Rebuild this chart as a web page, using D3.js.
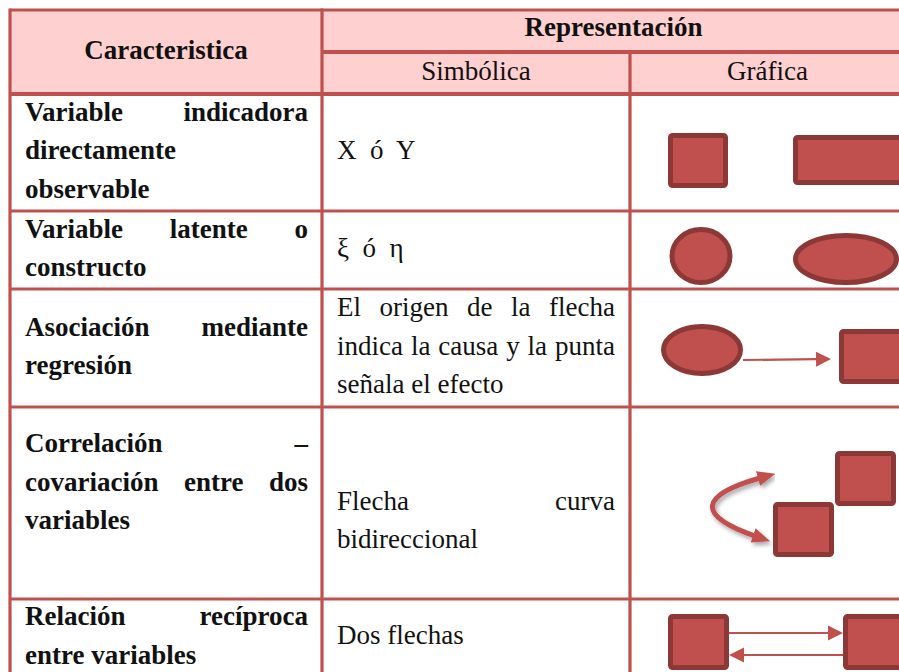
<!DOCTYPE html>
<html>
<head>
<meta charset="utf-8">
<script src="https://d3js.org/d3.v7.min.js"></script>
<style>
  body { margin: 0; background: #fff; }
  text { font-family: "Liberation Serif", "Times New Roman", serif; font-size: 27px; fill: #111; }
</style>
</head>
<body>
<div id="chart"></div>
<script>
// header texts
const headTitle = "Representación";
const headCols = ["Caracteristica", "Simbólica", "Gráfica"];

// cell texts, one entry per printed line ("" = empty paragraph line)
const characteristics = [
  ["Variable indicadora", "directamente", "observable"],
  ["Variable latente o", "constructo"],
  ["Asociación mediante", "regresión"],
  ["Correlación –", "covariación entre dos", "variables", ""],
  ["Relación recíproca", "entre variables"]
];
const symbolic = [
  ["X  ó  Y"],
  ["ξ  ó  η"],
  ["El origen de la flecha", "indica la causa y la punta", "señala el efecto"],
  ["", "Flecha curva", "bidireccional"],
  ["Dos flechas"]
];

// table layout
const W = 899, H = 672;
const colEdges = [10, 322, 630, 905];
const headEdges = [10, 52, 94];
const rowHeights = [117, 78, 118, 192, 77];
const rowEdges = [headEdges[2], ...d3.cumsum(rowHeights).map(v => v + headEdges[2])];
const LH = 38.5, ASC = 26;
const border = "#C0504D", headFill = "#FFD0D0";
const shapeFill = "#C0504D", shapeStroke = "#8C3836";

// glyphs in the "Gráfica" column, in cell-local coordinates (outer box)
const glyphs = [
  [{shape: "rect", x: 38, y: 39, w: 60, h: 55},
   {shape: "rect", x: 163, y: 41, w: 125, h: 50}],
  [{shape: "ellipse", cx: 71, cy: 45, rx: 31.5, ry: 29},
   {shape: "ellipse", cx: 216, cy: 48, rx: 53, ry: 26}],
  [{shape: "ellipse", cx: 72, cy: 61, rx: 41, ry: 26},
   {shape: "arrow", x1: 113, y1: 71, x2: 201, y2: 70},
   {shape: "rect", x: 209, y: 40, w: 70, h: 55}],
  [{shape: "rect", x: 205, y: 44, w: 61, h: 55},
   {shape: "rect", x: 143, y: 95, w: 61, h: 55},
   {shape: "curve", d: "M130,71 C70,88 65,108 125,129"}],
  [{shape: "rect", x: 38, y: 15, w: 61, h: 56},
   {shape: "rect", x: 213, y: 15, w: 70, h: 56},
   {shape: "arrow", x1: 99, y1: 34, x2: 213, y2: 34},
   {shape: "arrow", x1: 213, y1: 56, x2: 99, y2: 56}]
];

const svg = d3.select("#chart").append("svg")
    .attr("width", W)
    .attr("height", H);

const defs = svg.append("defs");
const shadow = defs.append("filter").attr("id", "shadow")
    .attr("x", "-20%").attr("y", "-20%").attr("width", "150%").attr("height", "150%");
shadow.append("feDropShadow")
    .attr("dx", 2).attr("dy", 3).attr("stdDeviation", 2)
    .attr("flood-color", "#000").attr("flood-opacity", 0.35);
defs.append("marker")
    .attr("id", "bighead")
    .attr("markerUnits", "userSpaceOnUse")
    .attr("viewBox", "0 -8 18 16")
    .attr("refX", 2).attr("refY", 0)
    .attr("markerWidth", 18).attr("markerHeight", 16)
    .attr("orient", "auto-start-reverse")
  .append("path")
    .attr("d", "M0,-7.5L18,0L0,7.5Z")
    .attr("fill", shapeFill);

//  header background
svg.append("rect")
    .attr("x", colEdges[0]).attr("y", headEdges[0])
    .attr("width", colEdges[3] - colEdges[0])
    .attr("height", headEdges[2] - headEdges[0])
    .attr("fill", headFill);

//  writes the lines of a cell, vertically centred; justified lines spread their words
function cellText(g, lines, x0, x1, cy, weight, align) {
    const n = lines.length;
    lines.forEach((line, i) => {
        if (!line) return;
        const y = cy - n * LH / 2 + ASC + i * LH;
        const words = line.split(" ");
        const justify = align === "justify" && lines[i + 1] && words.length > 1;
        if (align === "middle") {
            g.append("text")
                .attr("x", (x0 + x1) / 2).attr("y", y)
                .attr("text-anchor", "middle")
                .attr("font-weight", weight)
                .text(line);
            return;
        }
        if (!justify) {
            g.append("text")
                .attr("x", x0).attr("y", y)
                .attr("font-weight", weight)
                .style("white-space", "pre")
                .text(line);
            return;
        }
        const ts = words.map(w => g.append("text").attr("y", y).attr("font-weight", weight).text(w));
        const widths = ts.map(t => t.node().getComputedTextLength());
        const gap = (x1 - x0 - d3.sum(widths)) / (words.length - 1);
        let x = x0;
        ts.forEach((t, k) => { t.attr("x", x); x += widths[k] + gap; });
    });
}

const texts = svg.append("g");

//  header texts
cellText(texts, [headCols[0]], colEdges[0], colEdges[1], (headEdges[0] + headEdges[2]) / 2, "bold", "middle");
cellText(texts, [headTitle], colEdges[1], colEdges[3], (headEdges[0] + headEdges[1]) / 2 - 2, "bold", "middle");
cellText(texts, [headCols[1]], colEdges[1], colEdges[2], (headEdges[1] + headEdges[2]) / 2, "normal", "middle");
cellText(texts, [headCols[2]], colEdges[2], colEdges[3], (headEdges[1] + headEdges[2]) / 2, "normal", "middle");

//  body texts
characteristics.forEach((lines, r) => {
    const cy = (rowEdges[r] + rowEdges[r + 1]) / 2;
    cellText(texts, lines, colEdges[0] + 15, colEdges[1] - 14, cy, "bold", "justify");
    cellText(texts, symbolic[r], colEdges[1] + 15, colEdges[2] - 15, cy, "normal", "justify");
});

//  graphic column
glyphs.forEach((items, r) => {
    const g = svg.append("g")
        .attr("transform", `translate(${colEdges[2]},${rowEdges[r]})`);
    items.forEach(d => {
        if (d.shape === "rect") {
            g.append("rect")
                .attr("x", d.x + 2.5).attr("y", d.y + 2.5)
                .attr("width", d.w - 5).attr("height", d.h - 5)
                .attr("rx", 2)
                .attr("fill", shapeFill).attr("stroke", shapeStroke).attr("stroke-width", 5);
        } else if (d.shape === "ellipse") {
            g.append("ellipse")
                .attr("cx", d.cx).attr("cy", d.cy)
                .attr("rx", d.rx - 2.5).attr("ry", d.ry - 2.5)
                .attr("fill", shapeFill).attr("stroke", shapeStroke).attr("stroke-width", 5);
        } else if (d.shape === "arrow") {
            const dx = d.x2 - d.x1, dy = d.y2 - d.y1, len = Math.hypot(dx, dy);
            const ux = dx / len, uy = dy / len, hl = 15, hw = 7.5;
            const bx = d.x2 - ux * hl, by = d.y2 - uy * hl;
            g.append("line")
                .attr("x1", d.x1).attr("y1", d.y1).attr("x2", bx).attr("y2", by)
                .attr("stroke", shapeFill).attr("stroke-width", 2.2);
            g.append("path")
                .attr("d", `M${d.x2},${d.y2}L${bx - uy * hw},${by + ux * hw}L${bx + uy * hw},${by - ux * hw}Z`)
                .attr("fill", shapeFill);
        } else if (d.shape === "curve") {
            g.append("path")
                .attr("d", d.d)
                .attr("fill", "none")
                .attr("stroke", shapeFill).attr("stroke-width", 5)
                .attr("marker-start", "url(#bighead)")
                .attr("marker-end", "url(#bighead)")
                .attr("filter", "url(#shadow)");
        }
    });
});

//  table rules
const rules = svg.append("g").attr("stroke", border).attr("stroke-width", 3.2);
const hLines = [
    {x1: colEdges[0], x2: colEdges[3], y: headEdges[0]},
    {x1: colEdges[1], x2: colEdges[3], y: headEdges[1]},
    ...rowEdges.map(y => ({x1: colEdges[0], x2: colEdges[3], y}))
];
rules.selectAll(".h").data(hLines).join("line")
    .attr("x1", d => d.x1).attr("x2", d => d.x2)
    .attr("y1", d => d.y).attr("y2", d => d.y)
    .attr("stroke-width", (d, i) => i === 1 || i === 2 ? 4 : 3.2);
const vLines = [
    {x: colEdges[0], y1: headEdges[0], y2: rowEdges[5]},
    {x: colEdges[1], y1: headEdges[0], y2: rowEdges[5]},
    {x: colEdges[2], y1: headEdges[1], y2: rowEdges[5]},
    {x: colEdges[3], y1: headEdges[0], y2: rowEdges[5]}
];
rules.selectAll(".v").data(vLines).join("line")
    .attr("x1", d => d.x).attr("x2", d => d.x)
    .attr("y1", d => d.y1 - 1.6).attr("y2", d => d.y2 + 1.6);
</script>
</body>
</html>
